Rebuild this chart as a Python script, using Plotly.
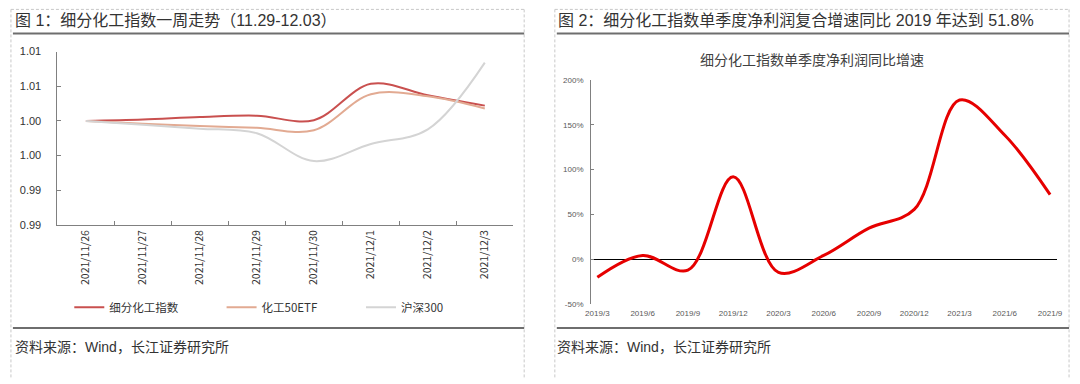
import plotly.graph_objects as go

W, H = 1080, 384

def px(x):
    return x / W

def py(y):
    return 1 - y / H

# ---------------- data: figure 1 ----------------
dates = ["2021/11/26", "2021/11/27", "2021/11/28", "2021/11/29",
         "2021/11/30", "2021/12/1", "2021/12/2", "2021/12/3"]
chem_index = [1.0000, 1.0002, 1.00056, 1.00075, 1.0001, 1.00534, 1.0037, 1.0022]
chem_etf = [1.0000, 0.99958, 0.99925, 0.9990, 0.99865, 1.00384, 1.00355, 1.0018]
hs300 = [1.0000, 0.99944, 0.99888, 0.99822, 0.99420, 0.99667, 0.99878, 1.0084]
y1_tickvals = [0.985, 0.990, 0.995, 1.000, 1.005, 1.010]
y1_ticktext = ["0.99", "0.99", "1.00", "1.00", "1.01", "1.01"]

# ---------------- data: figure 2 ----------------
quarters = ["2019/3", "2019/6", "2019/9", "2019/12", "2020/3", "2020/6",
            "2020/9", "2020/12", "2021/3", "2021/6", "2021/9"]
profit_yoy = [-20.5, 4, -12.5, 92, -15, 4, 34.5, 55.5, 178, 138.5, 72]
y2_tickvals = [-50, 0, 50, 100, 150, 200]
y2_ticktext = ["-50%", "0%", "50%", "100%", "150%", "200%"]

CJK = "Liberation Sans, Noto Sans CJK SC, sans-serif"
NOTO = "Noto Sans CJK SC, Noto Sans, sans-serif"

fig = go.Figure()

fig.add_trace(go.Scatter(x=dates, y=chem_index, name="细分化工指数", mode="lines",
                         line=dict(color="#C9504F", width=2, shape="spline", smoothing=1.0),
                         xaxis="x", yaxis="y", legend="legend"))
fig.add_trace(go.Scatter(x=dates, y=chem_etf, name="化工50ETF", mode="lines",
                         line=dict(color="#E2AA92", width=2, shape="spline", smoothing=1.0),
                         xaxis="x", yaxis="y", legend="legend2"))
fig.add_trace(go.Scatter(x=dates, y=hs300, name="沪深300", mode="lines",
                         line=dict(color="#D4D4D4", width=2, shape="spline", smoothing=1.0),
                         xaxis="x", yaxis="y", legend="legend3"))

fig.add_trace(go.Scatter(x=quarters, y=profit_yoy, name="细分化工指数单季度净利润同比增速",
                         mode="lines", showlegend=False,
                         line=dict(color="#E60000", width=3, shape="spline", smoothing=1.0),
                         xaxis="x2", yaxis="y2"))

x2_range = [-0.1376, 10.157]
y2_range = [-50, 200]
y2_dom = [py(307.3), py(76.7)]
zero_pos = y2_dom[0] + (0 - y2_range[0]) / (y2_range[1] - y2_range[0]) * (y2_dom[1] - y2_dom[0])
x3_ticks = [k - 0.175 for k in range(len(quarters))]

def leg(xpix):
    return dict(orientation="h", x=px(xpix), y=py(311), xanchor="left", yanchor="middle",
                font=dict(family=NOTO, size=11.5, color="#333333"),
                bgcolor="rgba(0,0,0,0)", itemwidth=30, borderwidth=0)

fig.update_layout(
    width=W, height=H,
    margin=dict(l=0, r=0, t=0, b=0),
    paper_bgcolor="white", plot_bgcolor="white",
    font=dict(family=CJK, color="#333333"),
    xaxis=dict(domain=[px(52), px(513)], type="category", tickson="boundaries",
               range=[-0.5, 7.5],
               ticks="inside", ticklen=4, tickcolor="#808080",
               showline=True, linecolor="#808080", linewidth=1,
               showgrid=False, zeroline=False, tickangle=-90,
               tickfont=dict(family=NOTO, size=10.5, color="#333333"),
               anchor="y"),
    yaxis=dict(domain=[py(226), py(47)], range=[0.985, 1.010],
               tickvals=y1_tickvals, ticktext=y1_ticktext,
               ticks="inside", ticklen=4, tickcolor="#808080",
               showline=True, linecolor="#808080", linewidth=1,
               showgrid=False, zeroline=False, ticklabelstandoff=13,
               tickfont=dict(family=CJK, size=11, color="#333333"),
               anchor="x"),
    xaxis2=dict(domain=[px(591.7), px(1063)], type="category", range=x2_range,
                showline=False, ticks="", showgrid=False, zeroline=False,
                ticklabelstandoff=3,
                tickfont=dict(family=CJK, size=8, color="#595959"),
                anchor="y2"),
    xaxis3=dict(domain=[px(591.7), px(1063)], overlaying="x2", range=x2_range,
                anchor="free", position=zero_pos, side="bottom",
                tickvals=x3_ticks, showticklabels=False, ticks="inside", ticklen=3,
                tickcolor="#808080", showline=False, showgrid=False, zeroline=False),
    yaxis2=dict(domain=y2_dom, range=y2_range,
                tickvals=y2_tickvals, ticktext=y2_ticktext,
                ticks="inside", ticklen=3, tickcolor="#808080",
                showline=True, linecolor="#808080", linewidth=1,
                showgrid=False, zeroline=True, zerolinecolor="#000000", zerolinewidth=1,
                ticklabelstandoff=5,
                tickfont=dict(family=CJK, size=8, color="#595959"),
                anchor="x2"),
    legend=leg(64),
    legend2=leg(218),
    legend3=leg(359),
    showlegend=True,
)

shapes = []
dash = dict(color="#C8C8C8", width=1, dash="3px,2px")
for x in (5, 524, 555, 1075):
    shapes.append(dict(type="line", xref="paper", yref="paper", x0=px(x), x1=px(x),
                       y0=py(3.5), y1=py(384), line=dash))
for (a, b) in ((5, 524), (555, 1075)):
    shapes.append(dict(type="line", xref="paper", yref="paper", x0=px(a), x1=px(b),
                       y0=py(3.5), y1=py(3.5), line=dash))
    shapes.append(dict(type="line", xref="paper", yref="paper", x0=px(a + 2), x1=px(b),
                       y0=py(28.5), y1=py(28.5), line=dict(color="#6E6E6E", width=2)))
    shapes.append(dict(type="line", xref="paper", yref="paper", x0=px(a + 2), x1=px(b),
                       y0=py(332.5), y1=py(332.5), line=dict(color="#6E6E6E", width=2)))
fig.update_layout(shapes=shapes)

ann = []
ann.append(dict(text="图 1：细分化工指数一周走势（11.29-12.03）", x=px(7), y=py(15),
                xref="paper", yref="paper", xanchor="left", yanchor="middle", showarrow=False,
                font=dict(family=CJK, size=16, color="#333333")))
ann.append(dict(text="图 2：细分化工指数单季度净利润复合增速同比 2019 年达到 51.8%", x=px(556), y=py(15),
                xref="paper", yref="paper", xanchor="left", yanchor="middle", showarrow=False,
                font=dict(family=CJK, size=16, color="#333333")))
ann.append(dict(text="细分化工指数单季度净利润同比增速", x=px(815), y=py(55),
                xref="paper", yref="paper", xanchor="center", yanchor="middle", showarrow=False,
                font=dict(family=NOTO, size=14, color="#404040")))
for x in (7, 555):
    ann.append(dict(text="资料来源：Wind，长江证券研究所", x=px(x), y=py(352),
                    xref="paper", yref="paper", xanchor="left", yanchor="middle", showarrow=False,
                    font=dict(family=CJK, size=14, color="#333333")))
fig.update_layout(annotations=ann)

# remove the browser's default 8px body margin so the 1080x384 figure fills the window
fig.write_html("out.html", config={"displayModeBar": False, "staticPlot": True},
               post_script="document.body.style.margin='0px';")
